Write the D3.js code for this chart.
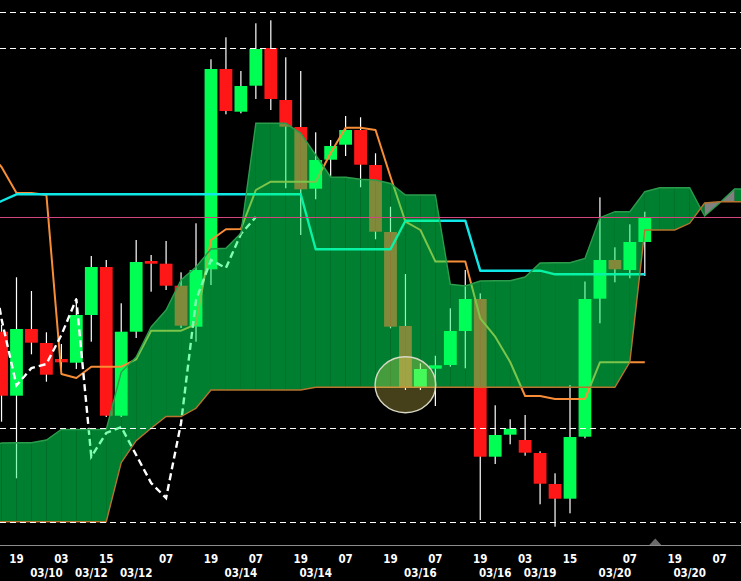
<!DOCTYPE html>
<html><head><meta charset="utf-8">
<script src="https://cdn.jsdelivr.net/npm/d3@7"></script>
<style>html,body{margin:0;padding:0;background:#000;overflow:hidden}</style>
</head><body>
<svg id="chart" width="741" height="581"></svg>
<script>
// ---------- DATA ----------
const candleFirst = -1; // index of first candle
const openV  = [213.3,149.3,216,202,186,182.3,230,278,129.3,213.3,284,281.3,259.3,218.3,275.7,476,433.3,459.3,497,445,418,356.3,385.3,400.3,415,380,313,219,157.7,176.3,180,214,246,88.3,110.3,105,92,61,46.3,108.3,246.3,285,275,303];
const highV  = [220,267.7,254,212.7,201,247,289,285,241.7,305,290,304,272.7,321.7,485.7,507.7,474,521.7,524.7,487.7,474,412.7,405,429,427.7,391.7,338.3,271,181.7,189.3,236.7,275,251.7,139.7,125.7,130,93.7,71.7,160,263.5,347.7,297.7,320.7,333.3];
const lowV   = [123.3,66.7,190.7,163.3,175.3,176,203.3,128,128,207,253.3,255,217,203.3,260,430.7,431.7,446,435,356.7,310,345.7,368.3,389,357.7,305.7,216.7,155,155,139,178.3,176.7,25,81,100.7,89.3,40.7,18.3,31.7,106.7,221.7,262.7,266.7,269];
const closeV = [149.3,216,202.3,170.3,182.7,230,278,129.3,213.3,283,281.3,259.3,219.3,275,476,434,459,496,446,418.3,355.7,385,399,415,380.3,313.3,218.3,157.7,176,179.7,214,246,88.3,110,116.3,92.3,61.3,46.3,108,246,285,275.7,303,327.3];

const lineFirst = -2; // index of first point of the indicator lines
const tenkanV = [395,378,352,352,350,171,167,178.3,178.3,178.3,185.7,214.3,214.3,214.3,220.7,305,315.7,316,355,363.3,363.3,363.3,363.3,392,417.3,417.3,415,368.3,323.3,315,283.5,283.5,283.5,226.7,208.3,183,149,149,146,146,146,182.7,182.7,182.7,182.7];
const kijunV  = [337,344,350.7,350.7,350.7,350.7,350.7,350.7,350.7,350.7,350.7,350.7,350.7,350.7,350.7,350.7,350.7,350.7,350.7,350.7,350.7,350.7,295.7,295.7,295.7,295.7,295.7,295.7,324.3,324.3,324.3,324.3,324.3,274.3,274.3,274.3,274.3,274.3,270.7,270.7,270.7,270.7,270.7,270.7,270.7];
const chikouV = [313,226,159.5,177,181,210,246,88.3,112,118,90,62,47,122,245,285,277,311,328];
const spanA = [97,102,102.3,102.3,105,115.5,115.5,115.5,115.5,173,188,218,235,265,278,296,296.7,311.7,421.7,421.7,421.7,411.7,390,368,367.7,365.7,365,361.5,350,350,350,260.7,259,264,264.3,264.3,268,282,282.3,282.3,286.5,327.3,333.3,333.3,353.3,357.3,357.3,357.3,329,342,356,356];
const spanB = [23.3,23.3,23.3,23.3,23.3,23.3,23.3,23.3,23.3,82.3,104.3,116.7,128.5,128.5,136.7,155,155,155,155,155,155,155,157.7,157.7,157.7,157.7,157.7,157.7,157.7,157.7,157.7,157.7,157.7,157.7,157.7,157.7,157.7,157.7,157.7,157.7,157.7,157.7,157.7,183,315,315,315,321.7,342,343.3,343.3,343.3];

const dashedLevels = [532.7,496.7,116.7,23.3];
const markerLevel = 327.7;
const highlight = {index: 26, price: 160.3, halfBars: 2.03, halfPrice: 28};
const nowIndex = 42.7;

const tickIdx  = [0,3,6,10,13,16,19,22,25,28,31,34,37,41,44,47];
const tickText = ['19','03','15','07','19','07','19','07','19','07','19','03','15','07','19','07'];
const dateIdx  = [2,5,8,15,20,27,32,35,40,45];
const dateText = ['03/10','03/12','03/12','03/14','03/14','03/16','03/16','03/19','03/20','03/20'];

// ---------- SCALES ----------
const W = 741, H = 581;
const x = d3.scaleLinear().domain([0, 47]).range([16.5, 719.6]);
const y = d3.scaleLinear().domain([0, 545]).range([545, 0]);
const bodyW = 12.8;

const svg = d3.select('#chart');
svg.append('rect').attr('width', W).attr('height', H).attr('fill', '#000');

const candles = openV.map((o, k) => ({i: candleFirst + k, o, h: highV[k], l: lowV[k], c: closeV[k]}));
const toPts = (arr, first) => arr.map((v, k) => ({i: first + k, v}));

// candles
const cg = svg.append('g');
cg.selectAll('rect.wick').data(candles).join('rect')
  .attr('x', d => x(d.i) - 0.6).attr('width', 1.2)
  .attr('y', d => y(d.h)).attr('height', d => y(d.l) - y(d.h))
  .attr('fill', '#ffffff');
cg.selectAll('rect.body').data(candles).join('rect')
  .attr('x', d => x(d.i) - bodyW / 2).attr('width', bodyW)
  .attr('y', d => y(Math.max(d.o, d.c)))
  .attr('height', d => Math.max(1, Math.abs(y(d.o) - y(d.c))))
  .attr('fill', d => d.c >= d.o ? '#00ff52' : '#ff1717');

// indicator lines
const line = d3.line().x(d => x(d.i)).y(d => y(d.v));
svg.append('path').attr('d', line(toPts(tenkanV, lineFirst)))
  .attr('fill', 'none').attr('stroke', '#f78d36').attr('stroke-width', 2).attr('stroke-linejoin', 'round');
svg.append('path').attr('d', line(toPts(kijunV, lineFirst)))
  .attr('fill', 'none').attr('stroke', '#10e8e8').attr('stroke-width', 2.4).attr('stroke-linejoin', 'round');
svg.append('path').attr('d', line(toPts(chikouV, lineFirst)))
  .attr('fill', 'none').attr('stroke', '#ffffff').attr('stroke-width', 2.4)
  .attr('stroke-dasharray', '7,4');

// cloud, one quad per interval
const A = toPts(spanA, lineFirst), B = toPts(spanB, lineFirst);
const quads = [];
for (let k = 0; k < A.length - 1; k++) {
  quads.push({
    pts: [[x(A[k].i), y(A[k].v)], [x(A[k+1].i), y(A[k+1].v)], [x(B[k+1].i), y(B[k+1].v)], [x(B[k].i), y(B[k].v)]],
    bull: A[k].v >= B[k].v
  });
}
svg.append('g').selectAll('polygon').data(quads).join('polygon')
  .attr('points', d => d.pts.map(p => p.join(',')).join(' '))
  .attr('fill', d => d.bull ? 'rgba(0,254,96,0.5)' : 'rgba(255,255,255,0.5)');
svg.append('path').attr('d', line(A)).attr('fill', 'none').attr('stroke', '#2b9c4b').attr('stroke-width', 1.4);
svg.append('path').attr('d', line(B)).attr('fill', 'none').attr('stroke', '#b8732e').attr('stroke-width', 1.4);

// highlight ellipse
svg.append('ellipse')
  .attr('cx', x(highlight.index)).attr('cy', y(highlight.price))
  .attr('rx', x(highlight.index + highlight.halfBars) - x(highlight.index))
  .attr('ry', y(highlight.price - highlight.halfPrice) - y(highlight.price))
  .attr('fill', 'rgba(255,237,96,0.27)').attr('stroke', '#d8d8c4').attr('stroke-width', 1.4);

// horizontal levels
svg.append('g').selectAll('line').data(dashedLevels).join('line')
  .attr('x1', 0).attr('x2', W).attr('y1', d => Math.round(y(d)) + 0.5).attr('y2', d => Math.round(y(d)) + 0.5)
  .attr('stroke', '#ffffff').attr('stroke-width', 1).attr('stroke-dasharray', '6,4');
svg.append('line').attr('x1', 0).attr('x2', W)
  .attr('y1', Math.round(y(markerLevel)) + 0.5).attr('y2', Math.round(y(markerLevel)) + 0.5)
  .attr('stroke', '#d4457f').attr('stroke-width', 1);

// axis
const axisY = 545.5;
svg.append('line').attr('x1', 0).attr('x2', W).attr('y1', axisY).attr('y2', axisY)
  .attr('stroke', '#8c8c8c').attr('stroke-width', 1);
const nx = x(nowIndex);
svg.append('path').attr('d', `M${nx - 6},${axisY - 0.5} L${nx + 6},${axisY - 0.5} L${nx},${axisY - 7} Z`)
  .attr('fill', '#6a6a6a');

const font = "'Liberation Sans Narrow','Arial Narrow','DejaVu Sans Condensed',sans-serif";
svg.append('g').selectAll('text').data(tickIdx).join('text')
  .attr('x', d => x(d)).attr('y', 562.5).attr('text-anchor', 'middle')
  .attr('fill', '#ffffff').attr('font-family', font).attr('font-weight', 'bold').attr('font-size', 11.5)
  .text((d, k) => tickText[k]);
svg.append('g').selectAll('text').data(dateIdx).join('text')
  .attr('x', d => x(d)).attr('y', 577).attr('text-anchor', 'middle')
  .attr('fill', '#ffffff').attr('font-family', font).attr('font-weight', 'bold').attr('font-size', 11.5)
  .text((d, k) => dateText[k]);
</script>
</body></html>
